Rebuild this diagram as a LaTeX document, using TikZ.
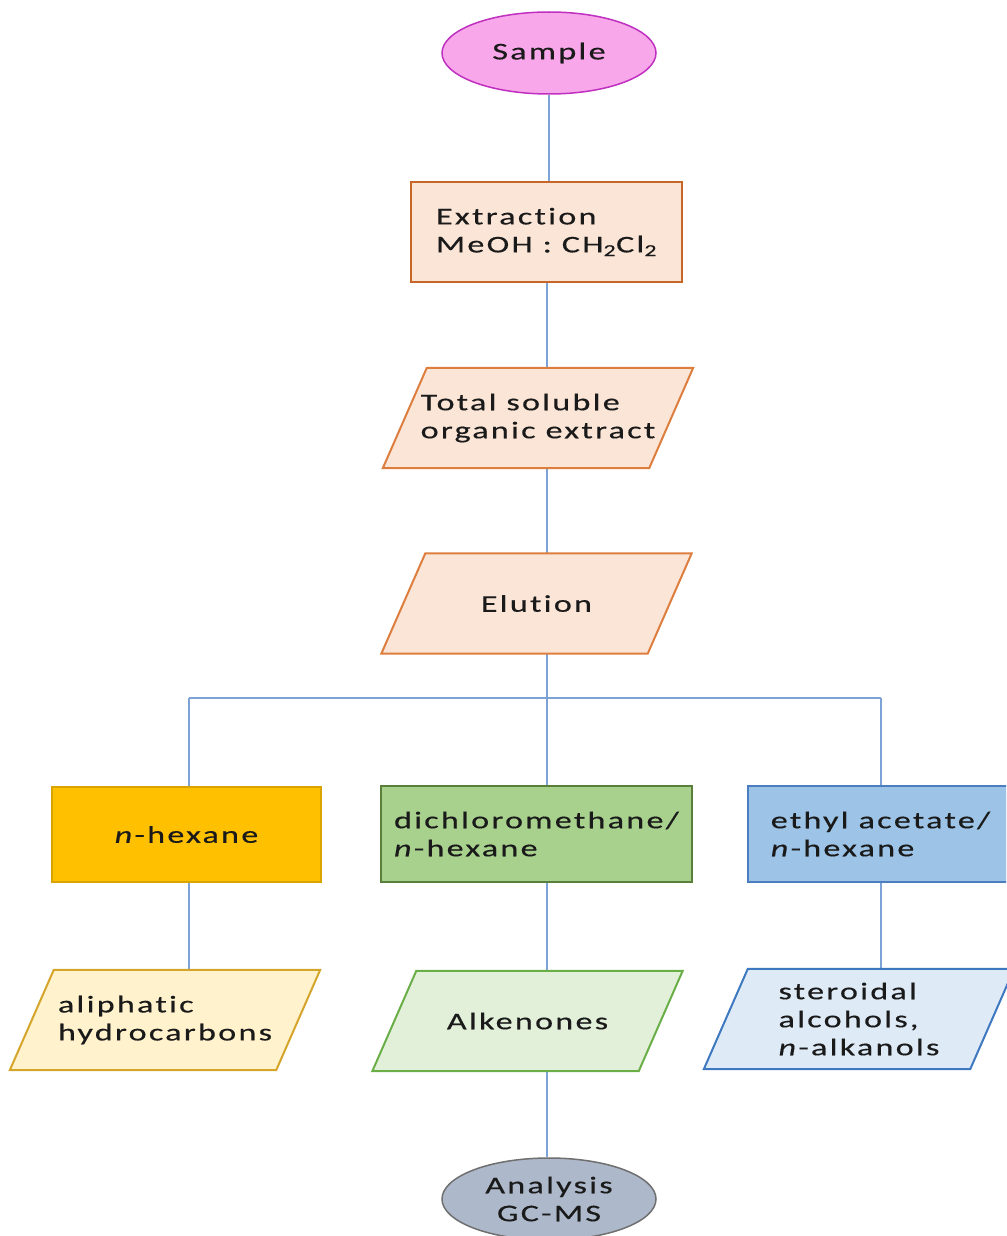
\documentclass[tikz,border=0pt]{standalone}
\usepackage{fontspec}
\setmainfont{Carlito}[FakeStretch=1.42,LetterSpace=9.5,FakeBold=0.4,Ligatures=NoCommon]
\usetikzlibrary{shapes.geometric,backgrounds}
\definecolor{txt}{HTML}{1A1A1A}
\definecolor{connc}{HTML}{7DA3D6}
\definecolor{sampf}{HTML}{F8A8EA}
\definecolor{sampd}{HTML}{C030C0}
\definecolor{orf}{HTML}{FBE5D6}
\definecolor{ord}{HTML}{C8662A}
\definecolor{orp}{HTML}{DD7E3E}
\definecolor{hexf}{HTML}{FFC000}
\definecolor{hexd}{HTML}{D9A300}
\definecolor{dcmf}{HTML}{A9D18E}
\definecolor{dcmd}{HTML}{5A7F3A}
\definecolor{ethf}{HTML}{9DC3E6}
\definecolor{ethd}{HTML}{4A7EC0}
\definecolor{alif}{HTML}{FFF2CC}
\definecolor{alid}{HTML}{D4A52A}
\definecolor{alkf}{HTML}{E2F0D9}
\definecolor{alkd}{HTML}{6AAE48}
\definecolor{stef}{HTML}{DEEBF7}
\definecolor{sted}{HTML}{3E78C0}
\definecolor{anaf}{HTML}{ADB9CA}
\definecolor{anad}{HTML}{6F6F6F}
\begin{document}
\begin{tikzpicture}[x=1pt,y=-1pt,
  base/.style={font=\fontsize{24}{28}\selectfont, text=txt, align=left, inner sep=0pt},
  box/.style={base, rectangle, line width=2.4pt},
  parabody/.style={base, rectangle, minimum width=266pt, minimum height=100pt},
  parashape/.style={line width=2pt},
  oval/.style={base, ellipse, minimum width=214pt, minimum height=82pt, line width=1.5pt},
  conn/.style={draw=connc, line width=1.3pt}]
\useasboundingbox (0,0) rectangle (1006,1236);
\clip (0,0) rectangle (1006,1236);
\node[oval, fill=sampf, draw=sampd] (samp) at (549,53) {Sample};
\node[box, fill=orf, draw=ord, minimum width=271pt, minimum height=100pt] (extr) at (546.5,232)
  {Extraction\\MeOH : CH\textsubscript{2}Cl\textsubscript{2}};
\node[parabody] (tsoe) at (538,418) {Total soluble\\organic extract};
\node[parabody] (elu) at (536.5,603.5) {Elution};
\node[box, fill=hexf, draw=hexd, line width=2pt, minimum width=269pt, minimum height=95pt] (hex) at (186.5,834.5)
  {\textit{n}-hexane};
\node[box, fill=dcmf, draw=dcmd, line width=2pt, minimum width=311pt, minimum height=96pt] (dcm) at (536.5,834)
  {dichloromethane/\\\textit{n}-hexane};
\node[box, fill=ethf, draw=ethd, line width=2pt, minimum width=265pt, minimum height=96pt] (eth) at (880.5,834)
  {ethyl acetate/\\\textit{n}-hexane};
\node[parabody] (ali) at (165,1020) {aliphatic\\hydrocarbons};
\node[parabody] (alk) at (527.5,1021) {Alkenones};
\node[parabody] (ster) at (859,1019) {steroidal\\alcohols,\\\textit{n}-alkanols};
\node[oval, fill=anaf, draw=anad, align=center] (ana) at (549,1199) {Analysis\\GC-MS};
\coordinate (bl) at (189,698);
\coordinate (bm) at (547,698);
\coordinate (br) at (881,698);
\begin{pgfonlayer}{background}
\draw[conn] (samp.south) -- (samp.south |- extr.north);
\draw[conn] (bm |- extr.south) -- (bm |- tsoe.north);
\draw[conn] (bm |- tsoe.south) -- (bm |- elu.north);
\draw[conn] (bm |- elu.south) -- (bm |- dcm.north);
\draw[conn] (bl) -- (br);
\draw[conn] (bl) -- (bl |- hex.north);
\draw[conn] (br) -- (br |- eth.north);
\draw[conn] (bl |- hex.south) -- (bl |- ali.north);
\draw[conn] (bm |- dcm.south) -- (bm |- alk.north);
\draw[conn] (br |- eth.south) -- (br |- ster.north);
\draw[conn] (bm |- alk.south) -- (bm |- ana.north);
\foreach \n/\f/\d in {tsoe/orf/orp, elu/orf/orp, ali/alif/alid, alk/alkf/alkd, ster/stef/sted}
  \draw[parashape, fill=\f, draw=\d]
    ([xshift=22pt]\n.north west) -- ([xshift=22pt]\n.north east)
    -- ([xshift=-22pt]\n.south east) -- ([xshift=-22pt]\n.south west) -- cycle;
\end{pgfonlayer}
\end{tikzpicture}
\end{document}
